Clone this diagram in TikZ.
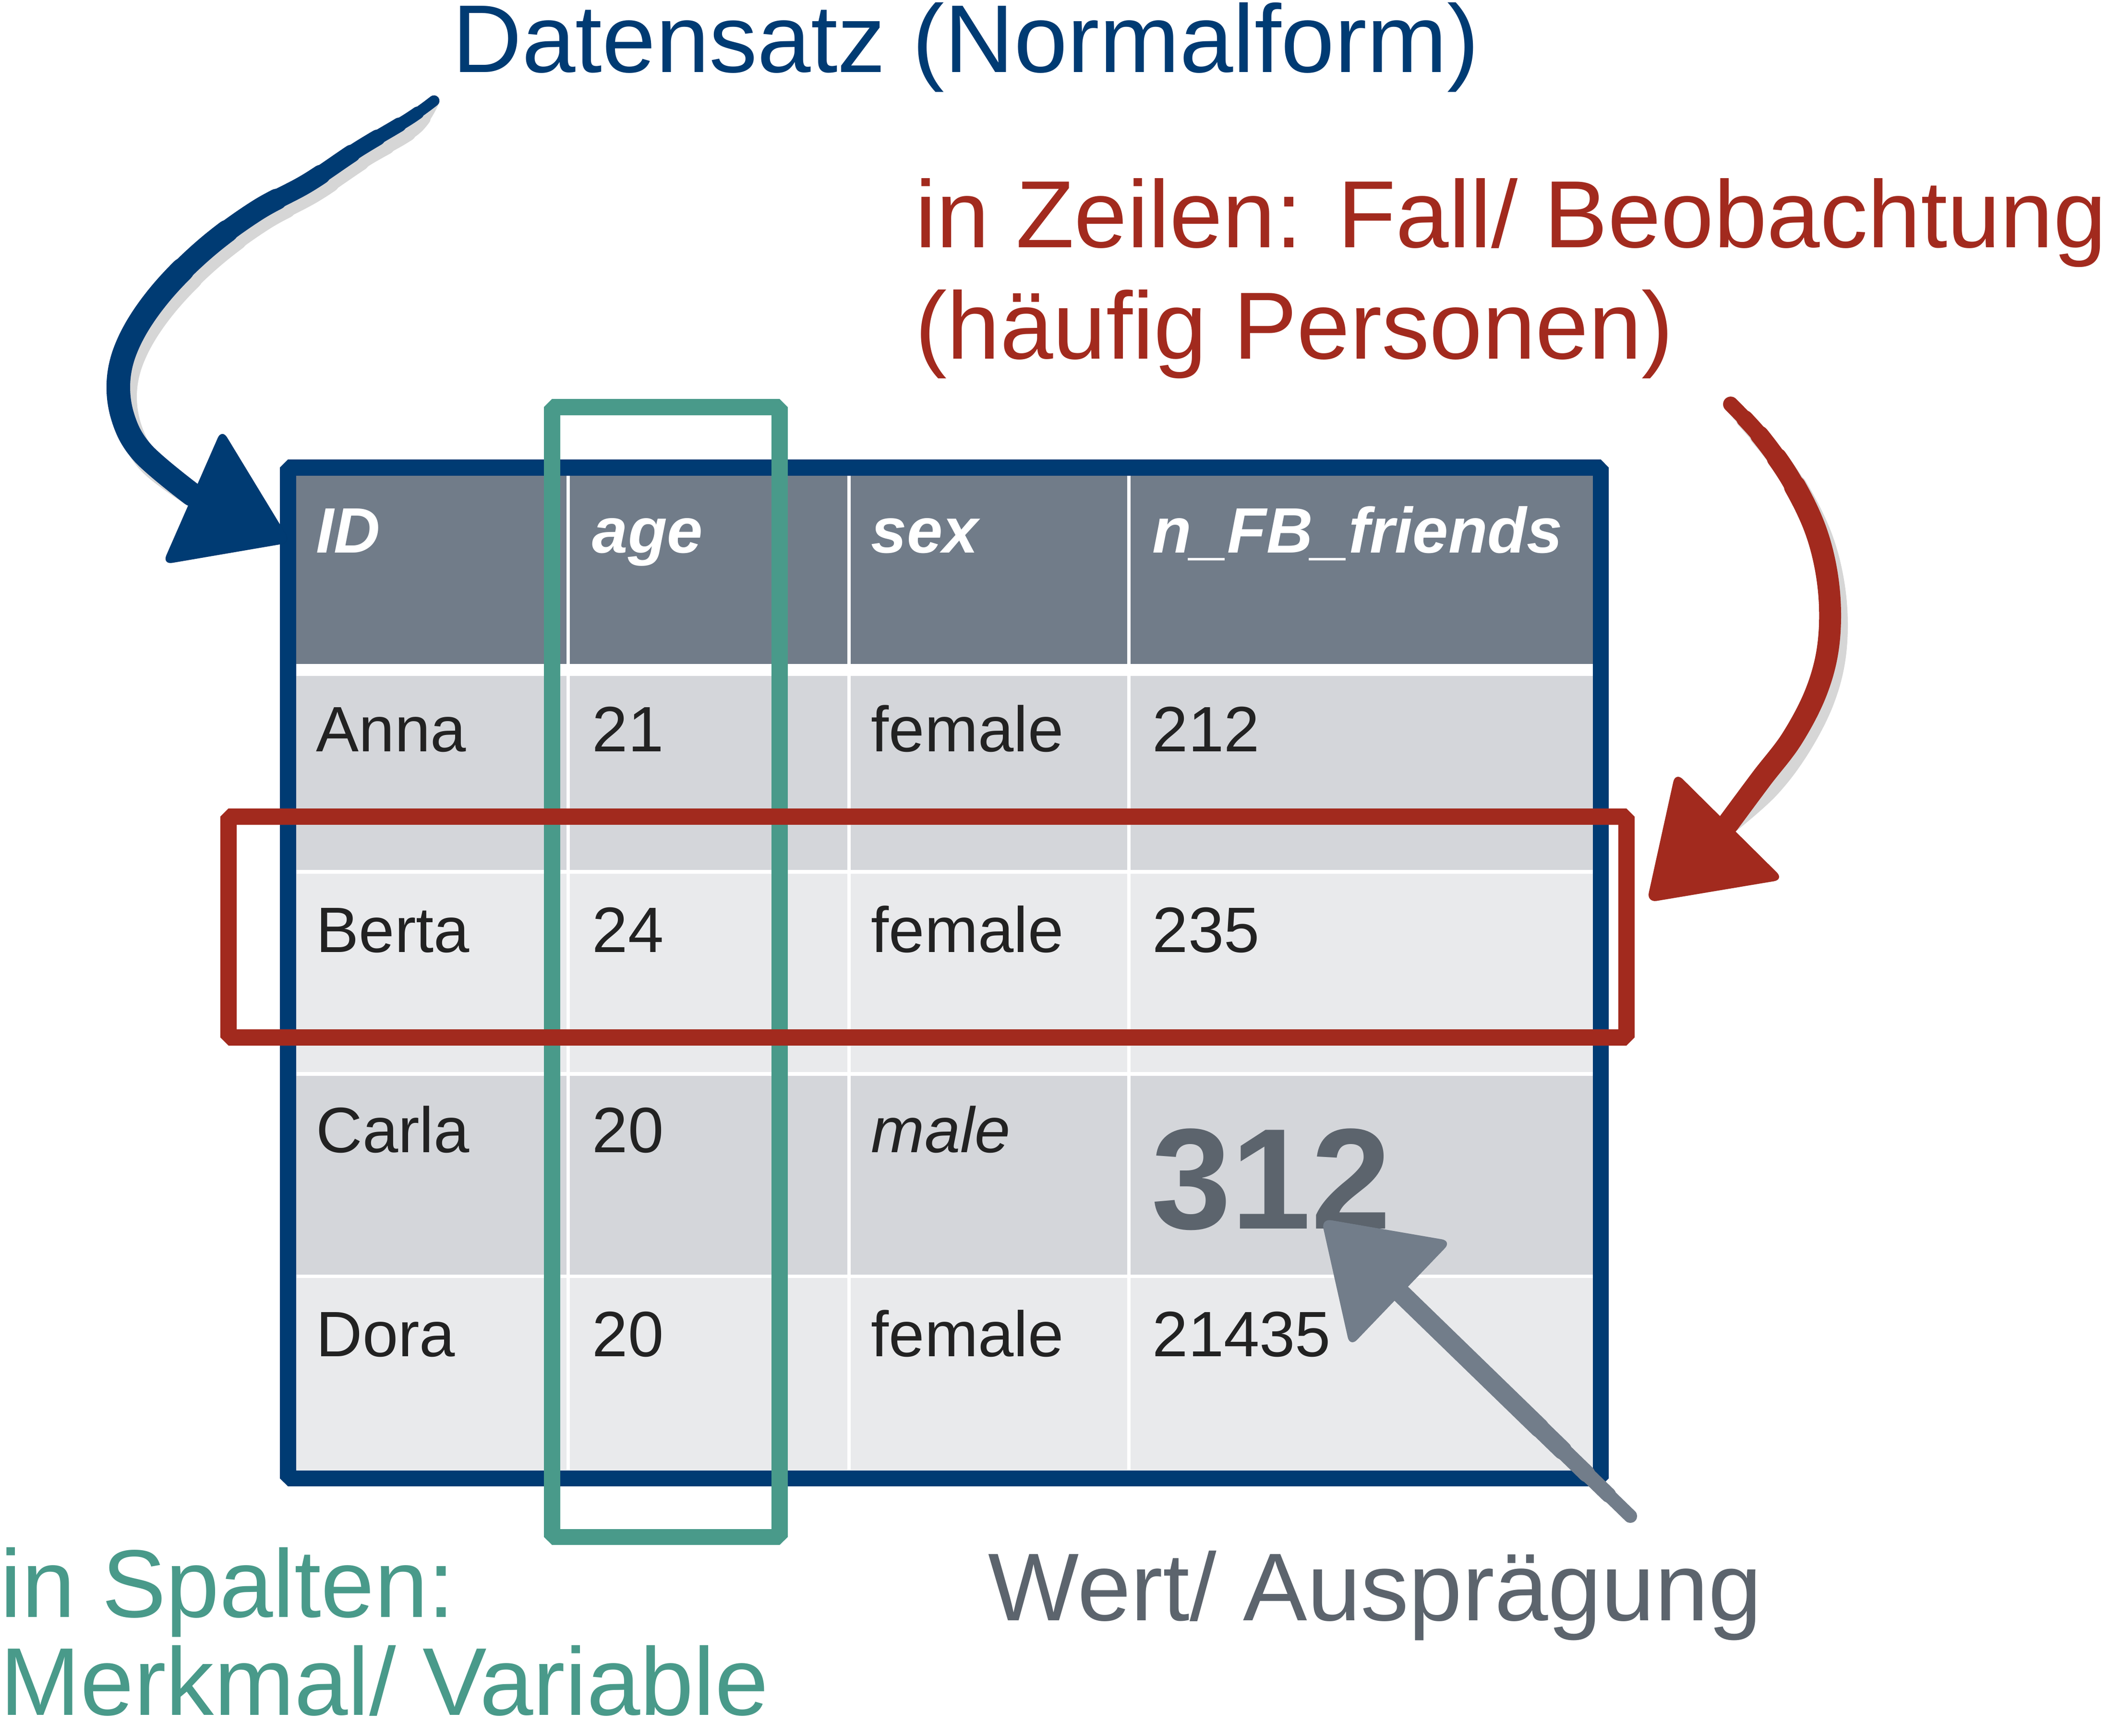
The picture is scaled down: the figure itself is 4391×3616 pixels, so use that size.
\documentclass[tikz,border=0pt]{standalone}
\usepackage{fontspec}
\setmainfont{Liberation Sans}
\definecolor{navy}{RGB}{0,59,115}
\definecolor{darkred}{RGB}{162,42,30}
\definecolor{teal2}{RGB}{73,154,138}
\definecolor{headgray}{RGB}{113,124,137}
\definecolor{rowdark}{RGB}{212,214,218}
\definecolor{rowlight}{RGB}{233,234,236}
\definecolor{celltext}{RGB}{34,34,34}
\definecolor{numgray}{RGB}{92,100,109}
\definecolor{arrowgray}{RGB}{114,125,138}
\newcommand{\BluePath}{plot[smooth, tension=0.6] coordinates {(bT) (851,248) (746,311) (641,381) (536,438) (431,515) (339,606) (276,697) (248,781) (255,866) (297,943) (bE)}}
\newcommand{\RedPath}{plot[smooth, tension=0.6] coordinates {(rT) (3669,911) (3733,1003) (3784,1110) (3809,1224) (3809,1339) (3784,1439) (3733,1538) (3669,1622) (rE)}}
\newcommand{\GrayPath}{(gT) -- (gE)}
% draw a path with a width that grows after a given distance
\newcommand{\Taper}[4]{% #1 path, #2 width, #3 start offset, #4 colour
  \draw[shaft, line width=#2, dash pattern=on 4000pt off #3, dash phase=4000pt, #4] #1;}
\newcommand{\BlueArrow}[1]{%
  \draw[shaft, line width=6.5pt, #1] \BluePath;
  \foreach \w/\o in {7.5pt/12pt, 8.5pt/25pt, 9.5pt/40pt, 10.5pt/58pt, 11.5pt/80pt, 12.5pt/110pt, 13.3pt/145pt, 14pt/180pt}{
    \Taper{\BluePath}{\w}{\o}{#1}}
  \fill[rounded corners=6, #1] (bH1) -- (bTip) -- (bH2) -- cycle;}
\newcommand{\RedArrow}[1]{%
  \draw[shaft, line width=9pt, #1] \RedPath;
  \foreach \w/\o in {10pt/12pt, 11pt/25pt, 12pt/42pt, 13pt/62pt}{
    \Taper{\RedPath}{\w}{\o}{#1}}
  \fill[rounded corners=6, #1] (rH1) -- (rTip) -- (rH2) -- cycle;}
\newcommand{\GrayArrow}[1]{%
  \draw[shaft, line width=8pt, #1] \GrayPath;
  \foreach \w/\o in {9pt/18pt, 10pt/36pt, 11pt/56pt, 11.5pt/75pt}{
    \Taper{\GrayPath}{\w}{\o}{#1}}
  \fill[rounded corners=6, #1] (gH1) -- (gTip) -- (gH2) -- cycle;}
\begin{document}
\begin{tikzpicture}[x=0.01cm, y=-0.01cm,
  big/.style={font=\fontsize{57}{67}\selectfont, inner sep=0pt, anchor=base west},
  cell/.style={font=\fontsize{38}{44}\selectfont, text=celltext, inner sep=0pt, anchor=base west},
  headcell/.style={cell, text=white, font=\fontsize{38}{44}\selectfont\bfseries\itshape},
  frame/.style={line join=bevel},
  shaft/.style={line cap=round, line join=round}]
\useasboundingbox (0,0) rectangle (4391,3616);
\fill[white] (0,0) rectangle (4391,3616);

% ---------- table cells ----------
\fill[white] (600,974) rectangle (3334,3079);
\foreach \xa/\xb in {617/1180, 1187/1765, 1772/2348, 2355/3318}{
  \fill[headgray] (\xa,991) rectangle (\xb,1383);
  \fill[rowdark]  (\xa,1408) rectangle (\xb,1812);
  \fill[rowlight] (\xa,1820) rectangle (\xb,2233);
  \fill[rowdark]  (\xa,2241) rectangle (\xb,2655);
  \fill[rowlight] (\xa,2662) rectangle (\xb,3062);
}

% ---------- table text ----------
\node[headcell] (hID)  at (658,1151)  {ID};
\node[headcell] (hage) at (1233,1151) {age};
\node[headcell] (hsex) at (1814,1151) {sex};
\node[headcell] (hfb)  at (2400,1151) {n\_FB\_friends};

\node[cell] (c11) at (658,1565)  {Anna};
\node[cell] (c12) at (1233,1565) {21};
\node[cell] (c13) at (1814,1565) {female};
\node[cell] (c14) at (2400,1565) {212};

\node[cell] (c21) at (658,1983)  {Berta};
\node[cell] (c22) at (1233,1983) {24};
\node[cell] (c23) at (1814,1983) {female};
\node[cell] (c24) at (2400,1983) {235};

\node[cell] (c31) at (658,2400)  {Carla};
\node[cell] (c32) at (1233,2400) {20};
\node[cell, font=\fontsize{38}{44}\selectfont\itshape] (c33) at (1814,2400) {male};
\node[cell, text=numgray, font=\fontsize{85}{95}\selectfont\bfseries] (c34) at (2398,2559) {312};

\node[cell] (c41) at (658,2825)  {Dora};
\node[cell] (c42) at (1233,2825) {20};
\node[cell] (c43) at (1814,2825) {female};
\node[cell] (c44) at (2400,2825) {21435};

% ---------- frames ----------
\draw[frame, navy, line width=9.4pt] (600,974) rectangle (3334,3079);
\draw[frame, teal2, line width=9.4pt] (1150,848) rectangle (1624,3201);
\draw[frame, darkred, line width=9.7pt] (476,1701) rectangle (3388,2161);

% ---------- labels ----------
\node[big, text=navy] (title) at (942,151) {Datensatz (Normalform)};
\node[big, text=darkred, font=\fontsize{56.5}{66}\selectfont] (zeilen1) at (1906,516) {in Zeilen: Fall/ Beobachtung};
\node[big, text=darkred, font=\fontsize{56.5}{66}\selectfont] (zeilen2) at (1906,748) {(häufig Personen)};
\node[big, text=teal2] (spalten1) at (0,3368) {in Spalten:};
\node[big, text=teal2, text depth=0pt] (spalten2) at (0,3572) {Merkmal/ Variable};
\node[big, text=numgray] (wert) at (2058,3375) {Wert/ Ausprägung};

% ---------- arrow coordinates ----------
\coordinate (bT) at (904,210);
\coordinate (bE) at (400,1030);
\coordinate (bH1) at (462,893);
\coordinate (bH2) at (338,1176);
\coordinate (bTip) at (606,1130);

\coordinate (rT) at (3605,842);
\coordinate (rE) at (3600,1715);
\coordinate (rH1) at (3490,1608);
\coordinate (rH2) at (3716,1832);
\coordinate (rTip) at (3430,1880);

\coordinate (gT) at (3396,3158);
\coordinate (gE) at (2916,2692);
\coordinate (gH1) at (3024,2585);
\coordinate (gH2) at (2812,2806);
\coordinate (gTip) at (2752,2538);

% ---------- arrows with soft shadows ----------
\begin{scope}[shift={(14,20)}, transparency group, opacity=0.16]
  \BlueArrow{black}
  \RedArrow{black}
  \GrayArrow{black}
\end{scope}
\BlueArrow{navy}
\RedArrow{darkred}
\GrayArrow{arrowgray}
\end{tikzpicture}
\end{document}
